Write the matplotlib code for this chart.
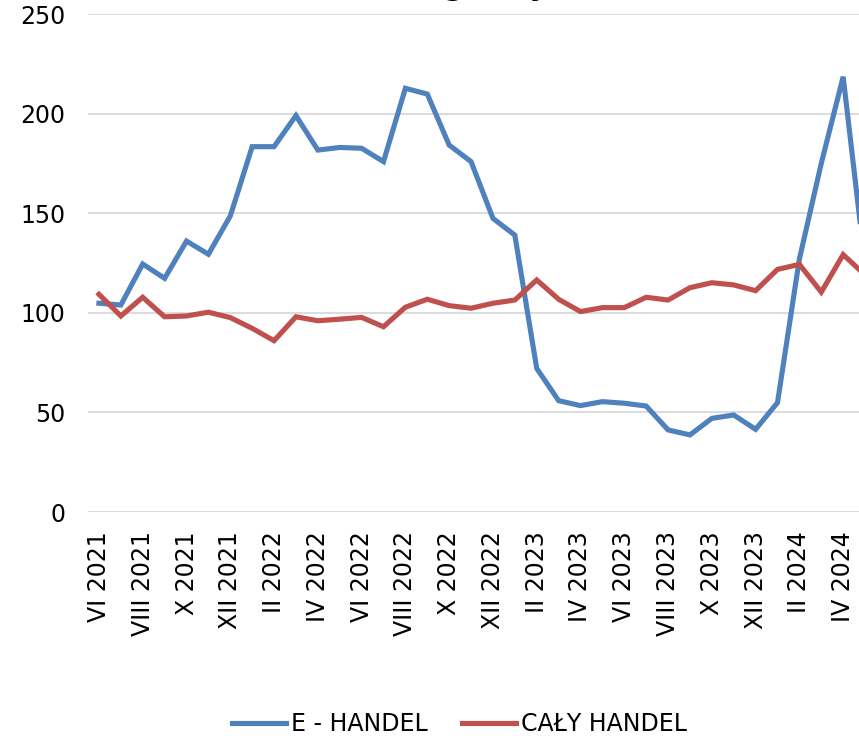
import matplotlib
matplotlib.use("Agg")
import matplotlib.pyplot as plt

months = ["VI 2021", "VII 2021", "VIII 2021", "IX 2021", "X 2021", "XI 2021", "XII 2021",
          "I 2022", "II 2022", "III 2022", "IV 2022", "V 2022", "VI 2022", "VII 2022",
          "VIII 2022", "IX 2022", "X 2022", "XI 2022", "XII 2022",
          "I 2023", "II 2023", "III 2023", "IV 2023", "V 2023", "VI 2023", "VII 2023",
          "VIII 2023", "IX 2023", "X 2023", "XI 2023", "XII 2023",
          "I 2024", "II 2024", "III 2024", "IV 2024", "V 2024"]

e_handel = [104.8, 103.9, 124.5, 117.3, 136.0, 129.4, 148.6,
            183.4, 183.4, 199.0, 181.7, 183.0, 182.6, 175.9, 212.7, 209.8, 184.2, 175.9, 147.4,
            139.0, 72.1, 55.9, 53.4, 55.4, 54.6, 53.2, 41.2, 38.7, 47.0, 48.7, 41.5,
            54.9, 127.0, 175.0, 218.5, 124.0]

caly_handel = [109.3, 98.4, 107.8, 98.0, 98.4, 100.3, 97.6,
               92.2, 86.0, 98.0, 96.0, 96.8, 97.7, 93.0, 102.8, 106.8, 103.6, 102.3, 104.8,
               106.4, 116.5, 106.8, 100.6, 102.6, 102.6, 107.8, 106.4, 112.6, 115.1, 114.0, 111.1,
               121.8, 124.3, 110.4, 129.2, 119.0]

series_names = ["E - HANDEL", "CAŁY HANDEL"]
title_text = "(okres analogiczny = 100)"
y_ticks = [0, 50, 100, 150, 200, 250]

plt.rcParams['font.family'] = ['DejaVu Sans']

W, H = 859, 736
fig = plt.figure(figsize=(W / 100, H / 100), dpi=100)
ax = fig.add_axes([88 / W, 1 - 512 / H, 788 / W, 498 / H])

x = list(range(len(months)))
ax.plot(x, e_handel, color="#4F81BD", lw=3.7, solid_joinstyle="miter", label=series_names[0], zorder=3)
ax.plot(x, caly_handel, color="#C0504D", lw=3.7, solid_joinstyle="miter", label=series_names[1], zorder=3)

ax.set_xlim(-0.5, len(months) - 0.5)
ax.set_ylim(0, 250)
ax.set_yticks(y_ticks)
ax.set_yticklabels([str(v) for v in y_ticks], fontsize=17)
ax.set_xticks(x[::2])
ax.set_xticklabels(months[::2], rotation=90, fontsize=17)
ax.tick_params(axis="y", length=0, pad=16.5)
ax.tick_params(axis="x", length=0, pad=14)
ax.grid(axis="y", color="#D9D9D9", lw=1.3)
ax.set_axisbelow(True)
for s in ax.spines.values():
    s.set_visible(False)

fig.text(0.527, 1 + 5.0 / H, title_text, ha="center", va="baseline",
         fontsize=21, fontweight="bold")

fig.legend(loc="center", bbox_to_anchor=(0.535, 1 - 724 / H), ncol=2, frameon=False,
           fontsize=17, handlelength=2.3, handletextpad=0.2, columnspacing=1.45, borderpad=0)

fig.savefig("out.png", dpi=100)
